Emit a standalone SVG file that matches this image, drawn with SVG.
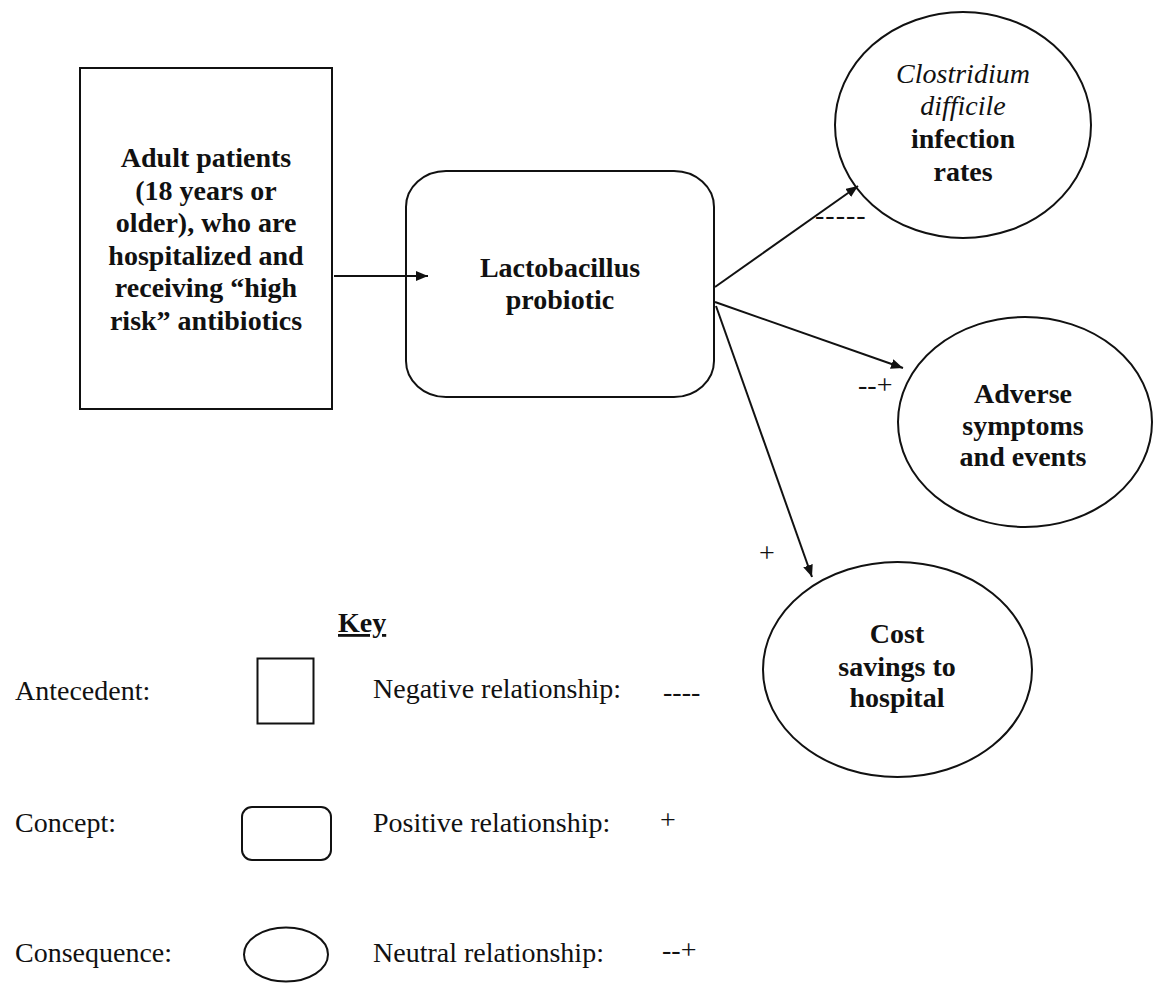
<svg xmlns="http://www.w3.org/2000/svg" width="1160" height="983" viewBox="0 0 1160 983">
<style>
.shape{fill:#fff;stroke:#111;stroke-width:2}
.t{font-family:"Liberation Serif","Times New Roman",serif;font-size:28px;fill:#111}
.b{font-weight:bold;text-anchor:middle}
.i{font-style:italic;text-anchor:middle}
.conn{stroke:#111;stroke-width:2;fill:none;marker-end:url(#ah)}
</style>
<defs>
<marker id="ah" markerUnits="userSpaceOnUse" markerWidth="12" markerHeight="10" refX="12" refY="5" orient="auto">
<path d="M0,0 L12,5 L0,10 z" fill="#111"/>
</marker>
</defs>
<rect width="1160" height="983" fill="#fff"/>

<g id="antecedent">
<rect class="shape" x="80" y="68" width="252" height="341"/>
<text class="t b" x="206" y="167">Adult patients</text>
<text class="t b" x="206" y="199.5">(18 years or</text>
<text class="t b" x="206" y="232">older), who are</text>
<text class="t b" x="206" y="264.5">hospitalized and</text>
<text class="t b" x="206" y="297">receiving “high</text>
<text class="t b" x="206" y="329.5">risk” antibiotics</text>
</g>

<g id="concept">
<rect class="shape" x="406" y="171" width="308" height="226" rx="40" ry="36"/>
<text class="t b" x="560" y="277">Lactobacillus</text>
<text class="t b" x="560" y="309">probiotic</text>
</g>

<g id="cdiff">
<ellipse class="shape" cx="963" cy="125" rx="128" ry="113"/>
<text class="t i" x="963" y="83">Clostridium</text>
<text class="t i" x="963" y="115">difficile</text>
<text class="t b" x="963" y="148">infection</text>
<text class="t b" x="963" y="181">rates</text>
</g>

<g id="adverse">
<ellipse class="shape" cx="1025" cy="422" rx="127" ry="105"/>
<text class="t b" x="1023" y="403">Adverse</text>
<text class="t b" x="1023" y="435">symptoms</text>
<text class="t b" x="1023" y="466">and events</text>
</g>

<g id="cost">
<ellipse class="shape" cx="897.5" cy="669.5" rx="134.5" ry="107.5"/>
<text class="t b" x="897" y="643">Cost</text>
<text class="t b" x="897" y="676">savings to</text>
<text class="t b" x="897" y="707">hospital</text>
</g>

<g id="connectors">
<line class="conn" x1="334" y1="276" x2="428" y2="276"/>
<line class="conn" x1="715" y1="287" x2="858" y2="186"/>
<line class="conn" x1="715" y1="302" x2="903" y2="368"/>
<line class="conn" x1="716" y1="306" x2="812" y2="577"/>
<text class="t" x="815" y="224" letter-spacing="1">-----</text>
<text class="t" x="858" y="394">--+</text>
<text class="t" x="759" y="562">+</text>
</g>

<g id="key">
<text class="t" x="338" y="632" font-weight="bold" text-decoration="underline">Key</text>
<text class="t" x="15" y="700">Antecedent:</text>
<text class="t" x="15" y="832">Concept:</text>
<text class="t" x="15" y="962">Consequence:</text>
<rect class="shape" x="257.5" y="658.5" width="56" height="65"/>
<rect class="shape" x="242" y="807" width="89" height="53" rx="10"/>
<ellipse class="shape" cx="286" cy="954.5" rx="42" ry="27"/>
<text class="t" x="373" y="698">Negative relationship:</text>
<text class="t" x="663" y="701">----</text>
<text class="t" x="373" y="832">Positive relationship:</text>
<text class="t" x="660" y="829">+</text>
<text class="t" x="373" y="962">Neutral relationship:</text>
<text class="t" x="662" y="959">--+</text>
</g>
</svg>
